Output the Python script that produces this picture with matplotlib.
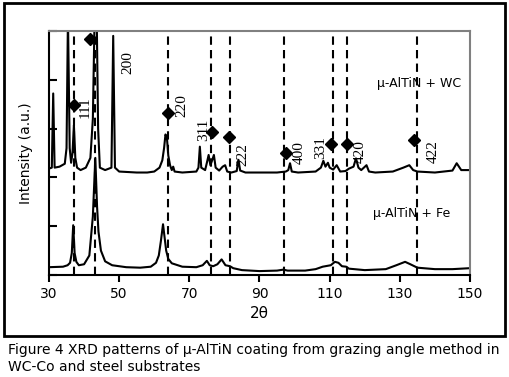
import matplotlib
matplotlib.use("Agg")
import matplotlib.pyplot as plt
from matplotlib.patches import Rectangle

# traced points of the two XRD patterns (2theta, intensity a.u.)
wc_2theta = [30.0, 30.8, 31.2, 31.6, 33.0, 34.5, 35.0, 35.4, 35.9, 36.3, 36.7, 37.1, 37.5, 38.0,
             39.0, 40.5, 41.8, 42.5, 43.0, 43.6, 44.0, 44.5, 46.0, 47.8, 48.3, 48.8, 50.0, 55.0,
             58.0, 60.0, 61.5, 62.3, 62.8, 63.2, 63.6, 64.0, 64.5, 65.0, 65.4, 65.8, 68.0, 72.0,
             72.6, 73.0, 73.4, 74.5, 75.0, 75.5, 76.0, 76.5, 77.0, 77.5, 78.5, 79.5, 80.2, 80.8,
             82.0, 83.5, 84.0, 84.5, 86.0, 90.0, 95.0, 97.5, 98.2, 98.7, 99.2, 101.0, 106.0,
             107.5, 108.2, 108.8, 109.5, 110.0, 111.0, 112.0, 113.0, 114.5, 115.5, 116.8, 117.5,
             118.2, 119.0, 120.5, 121.2, 123.0, 128.0, 131.0, 132.7, 133.8, 135.0, 140.0, 145.0,
             146.2, 147.5, 150.0]
wc_int = [2.18, 2.2, 3.72, 2.2, 2.22, 2.28, 2.6, 5.3, 2.6, 2.3, 2.5, 3.07, 2.4, 2.2,
          2.15, 2.2, 2.4, 3.2, 5.3, 5.3, 3.0, 2.2, 2.15, 2.2, 4.9, 2.2, 2.12, 2.1,
          2.1, 2.12, 2.2, 2.35, 2.6, 2.88, 2.82, 2.45, 2.25, 2.15, 2.22, 2.12, 2.1, 2.12,
          2.2, 2.63, 2.2, 2.15, 2.3, 2.46, 2.25, 2.35, 2.46, 2.2, 2.14, 2.22, 2.25, 2.12,
          2.1, 2.13, 2.36, 2.14, 2.1, 2.1, 2.1, 2.12, 2.15, 2.29, 2.12, 2.1, 2.12,
          2.2, 2.34, 2.22, 2.3, 2.2, 2.16, 2.25, 2.12, 2.13, 2.18, 2.22, 2.39,
          2.2, 2.15, 2.25, 2.12, 2.1, 2.12, 2.2, 2.25, 2.15, 2.12, 2.1, 2.14,
          2.29, 2.15, 2.15]

fe_2theta = [30.0, 34.0, 35.3, 36.0, 36.5, 36.9, 37.3, 37.8, 38.5, 40.0, 41.5, 42.5, 43.2, 43.7,
             44.1, 44.8, 46.0, 48.0, 52.0, 56.0, 59.0, 60.5, 61.3, 61.9, 62.5, 62.9, 63.4, 64.0,
             65.0, 68.0, 72.0, 73.8, 75.0, 75.8, 76.8, 78.0, 79.2, 80.3, 81.6, 82.5, 85.0, 90.0,
             95.0, 96.8, 98.0, 103.0, 106.0, 108.0, 110.3, 111.5, 112.5, 113.5, 114.7, 115.5,
             120.0, 126.0, 129.0, 131.5, 133.0, 135.0, 140.0, 145.0, 150.0]
fe_int = [0.16, 0.17, 0.2, 0.25, 0.45, 1.02, 0.45, 0.27, 0.2, 0.22, 0.4, 1.2, 2.4, 1.4,
          0.89, 0.5, 0.28, 0.2, 0.16, 0.15, 0.17, 0.25, 0.4, 0.7, 1.04, 0.8, 0.5, 0.33,
          0.24, 0.17, 0.16, 0.2, 0.29, 0.2, 0.18, 0.22, 0.32, 0.2, 0.18, 0.14, 0.1, 0.08,
          0.09, 0.11, 0.09, 0.09, 0.12, 0.17, 0.2, 0.27, 0.25, 0.18, 0.17, 0.13,
          0.1, 0.12, 0.2, 0.27, 0.22, 0.15, 0.12, 0.12, 0.14]

# AlTiN reflections
ref_lines = [37.0, 43.2, 63.8, 76.3, 81.5, 97.0, 110.9, 114.8, 134.8]
marker_x = [37.1, 41.7, 63.8, 76.5, 81.3, 97.6, 110.3, 114.9, 133.9]
marker_y = [3.48, 4.84, 3.32, 2.93, 2.83, 2.50, 2.68, 2.68, 2.77]
hkl = ["111", "200", "220", "311", "222", "400", "331", "420", "422"]
hkl_x = [40.3, 52.5, 67.9, 74.0, 85.3, 101.3, 107.4, 118.7, 139.5]
hkl_y = [3.44, 4.36, 3.48, 2.97, 2.46, 2.50, 2.62, 2.52, 2.52]

caption = ["Figure 4 XRD patterns of \u03bc-AlTiN coating from grazing angle method in",
           "WC-Co and steel substrates"]

fig = plt.figure(figsize=(5.1, 3.77), dpi=100)
fig.patches.append(Rectangle((4 / 510, 1 - 336 / 377), 501 / 510, 333 / 377,
                             transform=fig.transFigure, fill=False,
                             edgecolor="black", linewidth=2))
ax = fig.add_axes([49 / 510, 102 / 377, 421 / 510, 244 / 377])

for x in ref_lines:
    ax.axvline(x, color="black", linewidth=1.5, linestyle=(0, (4, 2.5)), zorder=1)

ax.plot(wc_2theta, wc_int, color="black", linewidth=1.5, zorder=2)
ax.plot(fe_2theta, fe_int, color="black", linewidth=1.5, zorder=2)
ax.plot(marker_x, marker_y, "D", color="black", markersize=6, linestyle="none", zorder=3)

for label, x, y in zip(hkl, hkl_x, hkl_y):
    ax.text(x, y, label, rotation=90, ha="center", va="center",
            fontsize=11, family="Liberation Serif")

ax.text(135.6, 3.93, "\u03bc-AlTiN + WC", ha="center", va="center", fontsize=9)
ax.text(133.5, 1.27, "\u03bc-AlTiN + Fe", ha="center", va="center", fontsize=9)

ax.set_xlim(30, 150)
ax.set_ylim(0, 5)
ax.set_xticks([30, 50, 70, 90, 110, 130, 150])
ax.set_yticks([0, 1, 2, 3, 4, 5])
ax.set_yticklabels([])
ax.tick_params(axis="x", direction="out", length=5, width=1.5, labelsize=10)
ax.tick_params(axis="y", direction="in", length=6, width=1.5)
ax.set_xlabel("2\u03b8", fontsize=11, labelpad=4)
ax.set_ylabel("Intensity (a.u.)", fontsize=10, labelpad=8)
for side in ["left", "bottom"]:
    ax.spines[side].set_linewidth(1.5)
for side in ["top", "right"]:
    ax.spines[side].set_color("#808080")
    ax.spines[side].set_linewidth(1.5)

fig.text(8 / 510, 1 - 350 / 377, caption[0], fontsize=10, va="center", ha="left")
fig.text(8 / 510, 1 - 367 / 377, caption[1], fontsize=10, va="center", ha="left")

fig.savefig("out.png", dpi=100)
